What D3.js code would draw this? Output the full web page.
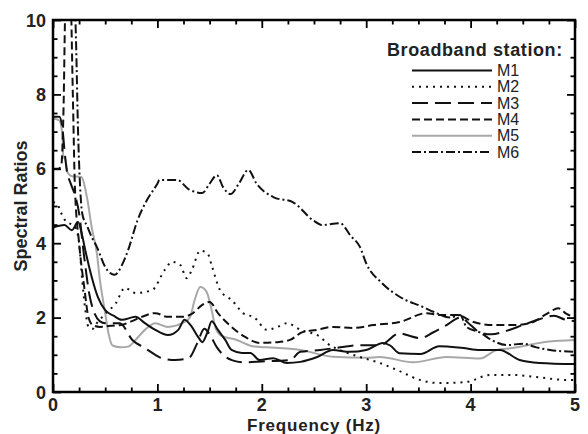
<!DOCTYPE html>
<html>
<head>
<meta charset="utf-8">
<script src="https://cdn.jsdelivr.net/npm/d3@7"></script>
<style>
  html, body { margin: 0; padding: 0; background: #fff; }
  svg { display: block; font-family: "Liberation Sans", Arial, sans-serif; }
</style>
</head>
<body>
<svg id="chart" width="588" height="434"></svg>
<script>
// Spectral ratio curves for six broadband stations, [frequency (Hz), ratio]
const m1 = [[0,4.42],[0.05,4.46],[0.11,4.49],[0.18,4.35],[0.24,4.57],[0.28,4.2],[0.31,3.8],[0.37,3.1],[0.43,2.55],[0.5,2.2],[0.58,2.05],[0.66,1.94],[0.79,2.02],[0.88,1.85],[0.98,1.67],[1.1,1.53],[1.2,1.67],[1.26,1.94],[1.33,1.75],[1.39,1.48],[1.43,1.34],[1.48,1.61],[1.52,1.9],[1.58,1.67],[1.65,1.4],[1.71,1.13],[1.81,1.05],[1.89,1.05],[1.98,0.86],[2.11,0.91],[2.24,0.78],[2.37,0.81],[2.53,0.94],[2.68,1.13],[2.84,1.08],[3.0,1.13],[3.16,1.32],[3.23,1.25],[3.32,1.04],[3.52,1.02],[3.7,1.23],[3.93,1.18],[4.09,1.13],[4.28,1.13],[4.47,0.86],[4.66,0.78],[5.0,0.75]];
const m2 = [[0,5.1],[0.04,5.05],[0.08,4.8],[0.12,4.6],[0.18,4.5],[0.22,4.4],[0.25,4.0],[0.28,3.0],[0.31,2.2],[0.34,1.75],[0.38,1.7],[0.42,1.85],[0.5,2.1],[0.6,2.38],[0.69,2.8],[0.79,2.66],[0.95,2.74],[1.07,3.28],[1.14,3.5],[1.22,3.41],[1.28,3.06],[1.33,3.28],[1.41,3.8],[1.48,3.73],[1.52,3.4],[1.6,2.74],[1.72,2.45],[1.82,2.12],[1.93,2.0],[2.05,1.67],[2.15,1.75],[2.24,1.85],[2.37,1.67],[2.56,1.48],[2.62,1.32],[2.75,1.13],[2.94,0.94],[3.13,0.78],[3.32,0.56],[3.52,0.32],[3.7,0.24],[3.96,0.27],[4.19,0.46],[4.4,0.46],[4.63,0.4],[4.95,0.32],[5.0,0.32]];
const m3 = [[0,7.4],[0.06,7.4],[0.09,7.1],[0.11,6.5],[0.13,6.0],[0.17,5.6],[0.21,5.3],[0.25,4.8],[0.3,3.6],[0.35,2.6],[0.4,2.1],[0.45,1.9],[0.5,1.85],[0.64,1.85],[0.76,1.4],[0.88,1.18],[0.98,1.0],[1.04,0.91],[1.17,0.86],[1.3,0.91],[1.38,1.3],[1.45,1.7],[1.5,1.55],[1.57,1.2],[1.65,0.95],[1.72,0.85],[1.82,0.8],[2.0,0.82],[2.27,0.86],[2.37,1.08],[2.56,1.13],[2.75,1.2],[2.94,1.26],[3.13,1.26],[3.32,1.58],[3.39,1.53],[3.52,1.45],[3.64,1.6],[3.77,1.8],[3.9,2.0],[4.0,1.8],[4.09,1.6],[4.2,1.55],[4.35,1.65],[4.5,1.8],[4.65,1.95],[4.8,2.05],[4.9,1.95],[5.0,1.9]];
const m4 = [[0,6.0],[0.05,6.0],[0.08,6.1],[0.1,7.5],[0.12,10.5],[0.15,11],[0.17,10.5],[0.19,8],[0.21,5.5],[0.25,4.0],[0.3,2.8],[0.34,2.0],[0.38,1.8],[0.45,1.75],[0.55,1.78],[0.65,1.8],[0.75,1.9],[0.85,2.02],[0.98,2.12],[1.1,2.02],[1.24,2.02],[1.33,2.1],[1.43,2.34],[1.5,2.42],[1.58,2.12],[1.71,1.75],[1.84,1.48],[1.98,1.32],[2.15,1.34],[2.27,1.4],[2.39,1.61],[2.53,1.67],[2.68,1.75],[2.87,1.72],[3.07,1.8],[3.32,1.88],[3.58,2.12],[3.7,2.07],[3.87,2.07],[4.03,1.88],[4.22,1.8],[4.4,1.8],[4.57,1.85],[4.73,2.1],[4.84,2.25],[4.92,2.1],[5.0,2.0]];
const m5 = [[0,7.35],[0.06,7.3],[0.09,6.9],[0.1,6.3],[0.115,6.28],[0.14,5.9],[0.18,5.8],[0.27,5.78],[0.33,5.16],[0.37,4.44],[0.42,3.73],[0.45,3.0],[0.5,2.12],[0.53,1.6],[0.57,1.25],[0.65,1.2],[0.72,1.22],[0.79,1.4],[0.88,1.67],[0.98,1.85],[1.1,1.75],[1.24,1.85],[1.31,2.0],[1.36,2.5],[1.41,2.82],[1.47,2.7],[1.52,2.2],[1.56,1.7],[1.62,1.5],[1.74,1.42],[1.93,1.22],[2.05,1.2],[2.37,1.13],[2.68,0.95],[3.0,0.92],[3.13,0.94],[3.45,0.8],[3.77,0.94],[4.09,0.9],[4.25,1.13],[4.4,1.18],[4.73,1.35],[5.0,1.4]];
const m6 = [[0,12],[0.2,11],[0.22,9.5],[0.24,7],[0.26,5.5],[0.28,4.8],[0.33,4.44],[0.37,4.17],[0.42,3.9],[0.5,3.36],[0.59,3.15],[0.66,3.41],[0.72,3.82],[0.81,4.62],[0.9,5.16],[1.0,5.6],[1.02,5.7],[1.19,5.7],[1.3,5.45],[1.43,5.35],[1.5,5.6],[1.57,5.83],[1.63,5.5],[1.7,5.32],[1.78,5.6],[1.87,5.97],[1.95,5.6],[2.11,5.24],[2.3,5.1],[2.49,4.62],[2.58,4.49],[2.75,4.54],[2.85,4.2],[2.94,3.9],[3.0,3.46],[3.15,2.93],[3.32,2.56],[3.54,2.29],[3.65,2.15],[3.8,2.0],[3.9,2.07],[3.96,1.75],[4.09,1.6],[4.2,1.4],[4.35,1.26],[4.5,1.3],[4.63,1.2],[4.76,1.13],[5.0,1.08]];

const stationNames = ["M1", "M2", "M3", "M4", "M5", "M6"];
const xTickValues = [0, 1, 2, 3, 4, 5];
const yTickValues = [0, 2, 4, 6, 8, 10];

const seriesData = [m1, m2, m3, m4, m5, m6];
const seriesStyle = [
  { color: "#111", dash: null },
  { color: "#111", dash: "2,5" },
  { color: "#111", dash: "16,7" },
  { color: "#111", dash: "8,4" },
  { color: "#a8a8a8", dash: null },
  { color: "#111", dash: "9,3,2,3" }
];

const svg = d3.select("#chart");
const plotLeft = 53, plotRight = 575, plotTop = 20, plotBottom = 392;

const x = d3.scaleLinear().domain([0, 5]).range([plotLeft, plotRight]);
const y = d3.scaleLinear().domain([0, 10]).range([plotBottom, plotTop]);

svg.append("defs").append("clipPath").attr("id", "plot-clip")
  .append("rect").attr("x", plotLeft).attr("y", plotTop)
  .attr("width", plotRight - plotLeft).attr("height", plotBottom - plotTop);

// curves (gray M5 drawn first so the black curves sit on top)
const line = d3.line().x(d => x(d[0])).y(d => y(d[1])).curve(d3.curveMonotoneX);
const curves = svg.append("g").attr("clip-path", "url(#plot-clip)");
[4, 0, 1, 2, 3, 5].forEach(i => {
  curves.append("path")
    .attr("d", line(seriesData[i]))
    .attr("fill", "none")
    .attr("stroke", seriesStyle[i].color)
    .attr("stroke-width", 2)
    .attr("stroke-dasharray", seriesStyle[i].dash)
    .attr("stroke-linejoin", "round");
});

// inward ticks on all four sides
const xMinor = d3.range(0, 5.001, 0.25);
const yMinor = d3.range(0, 10.001, 0.5);
const isMajorX = v => Math.abs(v - Math.round(v)) < 1e-6;
const isMajorY = v => Math.abs(v / 2 - Math.round(v / 2)) < 1e-6;

function addAxis(axisFn, scale, values, majorTest, translate) {
  const g = svg.append("g").attr("transform", translate);
  g.call(axisFn(scale).tickValues(values).tickSizeOuter(0).tickFormat(""));
  g.select(".domain").remove();
  g.selectAll(".tick line")
    .attr("stroke", "#000").attr("stroke-width", 1.8)
    .each(function(d) {
      const len = majorTest(d) ? 8 : 4.5;
      const sel = d3.select(this);
      if (sel.attr("y2") !== null) sel.attr("y2", +sel.attr("y2") > 0 ? len : -len);
      if (sel.attr("x2") !== null) sel.attr("x2", +sel.attr("x2") > 0 ? len : -len);
    });
}
addAxis(d3.axisTop, x, xMinor, isMajorX, `translate(0,${plotBottom})`);
addAxis(d3.axisBottom, x, xMinor, isMajorX, `translate(0,${plotTop})`);
addAxis(d3.axisRight, y, yMinor, isMajorY, `translate(${plotLeft},0)`);
addAxis(d3.axisLeft, y, yMinor, isMajorY, `translate(${plotRight},0)`);

// frame
svg.append("rect")
  .attr("x", plotLeft).attr("y", plotTop)
  .attr("width", plotRight - plotLeft).attr("height", plotBottom - plotTop)
  .attr("fill", "none").attr("stroke", "#000").attr("stroke-width", 2.5);

// tick labels
svg.append("g").selectAll("text").data(xTickValues).join("text")
  .attr("x", d => x(d)).attr("y", 411)
  .attr("text-anchor", "middle")
  .attr("font-size", 18).attr("font-weight", "bold").attr("fill", "#222")
  .text(d => d);
svg.append("g").selectAll("text").data(yTickValues).join("text")
  .attr("x", 46).attr("y", d => y(d) + 6.5)
  .attr("text-anchor", "end")
  .attr("font-size", 18).attr("font-weight", "bold").attr("fill", "#222")
  .text(d => d);

// axis titles
svg.append("text")
  .attr("x", (plotLeft + plotRight) / 2).attr("y", 430.5)
  .attr("text-anchor", "middle")
  .attr("font-size", 17).attr("font-weight", "bold").attr("fill", "#222")
  .attr("letter-spacing", 0.8)
  .text("Frequency (Hz)");
svg.append("text")
  .attr("transform", `translate(27,${(plotTop + plotBottom) / 2}) rotate(-90)`)
  .attr("text-anchor", "middle")
  .attr("font-size", 18).attr("font-weight", "bold").attr("fill", "#222")
  .text("Spectral Ratios");

// legend
const legend = svg.append("g");
legend.append("text")
  .attr("x", 387).attr("y", 56)
  .attr("font-size", 18).attr("font-weight", "bold").attr("fill", "#222")
  .attr("letter-spacing", 0.6)
  .text("Broadband station:");
stationNames.forEach((name, i) => {
  const cy = 70.5 + i * 16.3;
  legend.append("line")
    .attr("x1", 412).attr("x2", 492).attr("y1", cy).attr("y2", cy)
    .attr("stroke", seriesStyle[i].color).attr("stroke-width", 2)
    .attr("stroke-dasharray", seriesStyle[i].dash);
  legend.append("text")
    .attr("x", 497).attr("y", cy + 5.5)
    .attr("font-size", 16).attr("fill", "#222")
    .text(name);
});
</script>
</body>
</html>
